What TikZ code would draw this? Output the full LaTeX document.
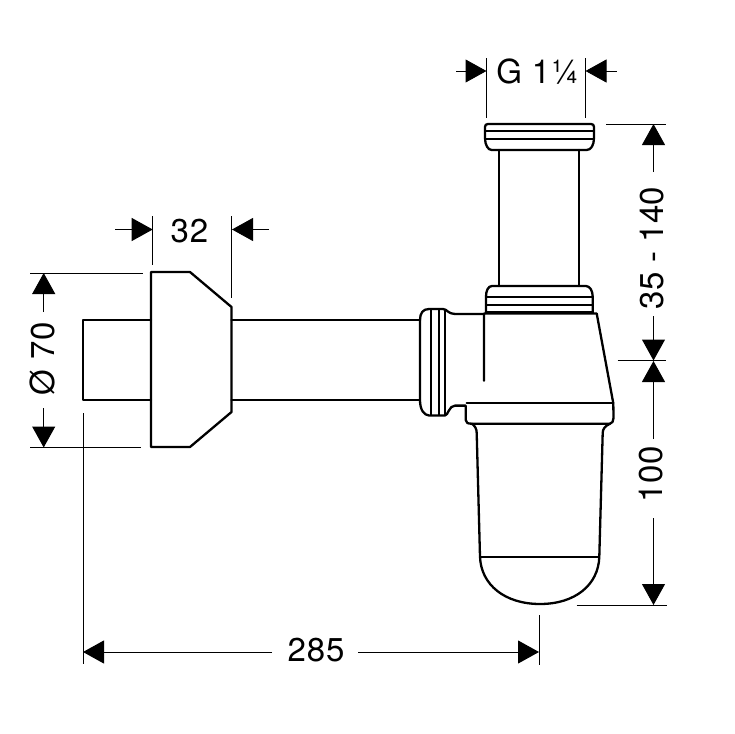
\documentclass[tikz,border=0pt]{standalone}
\usepackage{fontspec}
\setmainfont[LetterSpace=2.5]{TeX Gyre Heros}
\newfontfamily\tightdim[LetterSpace=1]{TeX Gyre Heros}
\usetikzlibrary{arrows.meta}
\tikzset{
  part/.style={line width=2.3pt,line join=round,line cap=round,black},
  thin part/.style={line width=1.9pt,black},
  dimline/.style={line width=1pt,black,-{Triangle[length=21pt,width=23pt]}},
  extline/.style={line width=1pt,black},
  dimtext/.style={font=\fontsize{33}{33}\selectfont,inner sep=0pt,text=black}
}
\begin{document}
\begin{tikzpicture}[x=1pt,y=-1pt]
\useasboundingbox (0,0) rectangle (734,734);
% extension lines
\draw[extline] (152.7,216) -- (152.7,265);
\draw[extline] (231.5,216) -- (231.5,298);
\draw[extline] (30,273) -- (143,273);
\draw[extline] (30,447.7) -- (141,447.7);
\draw[extline] (83,413) -- (83,664);
\draw[extline] (539,615) -- (539,665);
\draw[extline] (486.7,58) -- (486.7,118);
\draw[extline] (585,58) -- (585,118);
\draw[extline] (606,124) -- (666,124);
\draw[extline] (617.7,360.7) -- (666,360.7);
\draw[extline] (576.7,605) -- (666.7,605);
% wall part
\draw[part] (151,272) -- (190,272) -- (231.5,307) -- (231.5,412) -- (190,447) -- (151,447) -- cycle;
\draw[part] (151,320) -- (83,320) -- (83,400) -- (151,400);
\draw[part] (231.5,320) -- (420,320);
\draw[part] (231.5,400) -- (420,400);
% collar
\draw[part] (420,320) .. controls (420,313) and (423,309) .. (429,309) -- (443,309)
  .. controls (447,309) and (448,314) .. (455,314) -- (484,314);
\draw[part] (420,320) -- (420,400) .. controls (420,410) and (424,415) .. (429,415.5) -- (445,415.5)
  .. controls (448,415.5) and (449,405.6) .. (455,405.6) -- (465.7,405.6) -- (465.7,420)
  .. controls (465.7,423) and (468,423.7) .. (472,423.7) -- (610,423.7)
  .. controls (612,423.7) and (613.5,421) .. (613.5,418) -- (613.3,403.3) -- (596.7,313.5) -- (484,313.5) -- (484,380.7);
\draw[thin part] (430.7,309) -- (430.7,415.5);
\draw[thin part] (439.3,309) -- (439.3,415.5);
\draw[thin part] (445,309) -- (445,415.5);
\draw[part] (466.7,403.3) -- (613.3,403.3);
% bowl
\draw[part] (472,423.7) .. controls (475,426) and (476.7,429) .. (476.7,433) -- (480,556.7)
  .. controls (481,585) and (505,604) .. (540,604)
  .. controls (575,604) and (598.5,585) .. (599.3,556.7) -- (602.7,433)
  .. controls (602.7,429) and (605,426) .. (610,423.7);
\draw[thin part] (480,556.7) -- (599.3,556.7);
% upper collar
\draw[part] (486,312.7) -- (486,296.7) .. controls (486,291) and (488,286) .. (492,286) -- (586,286)
  .. controls (590,286) and (592.7,291) .. (592.7,296.7) -- (592.7,312.7);
\draw[thin part] (486,296.7) -- (592.7,296.7);
\draw[thin part] (486,305) -- (592.7,305);
\draw[part] (486,311.7) -- (592.7,311.7);
% riser
\draw[part] (499.3,150) -- (499.3,286);
\draw[part] (579.3,150) -- (579.3,286);
% top ring
\draw[part] (485,127) .. controls (485,125) and (486,124) .. (488,124) -- (591,124)
  .. controls (593,124) and (594,125) .. (594,127) -- (594,138)
  .. controls (594,145) and (591,150) .. (586.7,150) -- (491.7,150)
  .. controls (488,150) and (485,145) .. (485,138) -- cycle;
\draw[thin part] (485,130.7) -- (594,130.7);
\draw[thin part] (485,139.3) -- (594,139.3);
% dimensions
\draw[dimline] (115,229.5) -- (152.7,229.5);
\draw[dimline] (269,229.5) -- (232,229.5);
\node[dimtext] (t32) at (189.5,231) {32};
\draw[dimline] (43.7,312) -- (43.7,273);
\draw[dimline] (43.7,408) -- (43.7,447.5);
\node[dimtext,rotate=90] (t70) at (42.5,359) {Ø 70};
\draw[dimline] (456,71) -- (486.5,71);
\draw[dimline] (616.7,71) -- (585.5,71);
\node[dimtext] (tg) at (537.5,72) {G 1¼};
\draw[dimline] (653.5,172) -- (653.5,124);
\draw[dimline] (653.5,316) -- (653.5,360.5);
\node[dimtext,rotate=90] (t35) at (652,248) {\tightdim 35 - 140};
\draw[dimline] (653.5,439) -- (653.5,361);
\draw[dimline] (653.5,518) -- (653.5,605);
\node[dimtext,rotate=90] (t100) at (651,474) {100};
\draw[dimline] (272,652) -- (83,652);
\draw[dimline] (358,652) -- (539,652);
\node[dimtext] (t285) at (316,650) {285};
\end{tikzpicture}
\end{document}
